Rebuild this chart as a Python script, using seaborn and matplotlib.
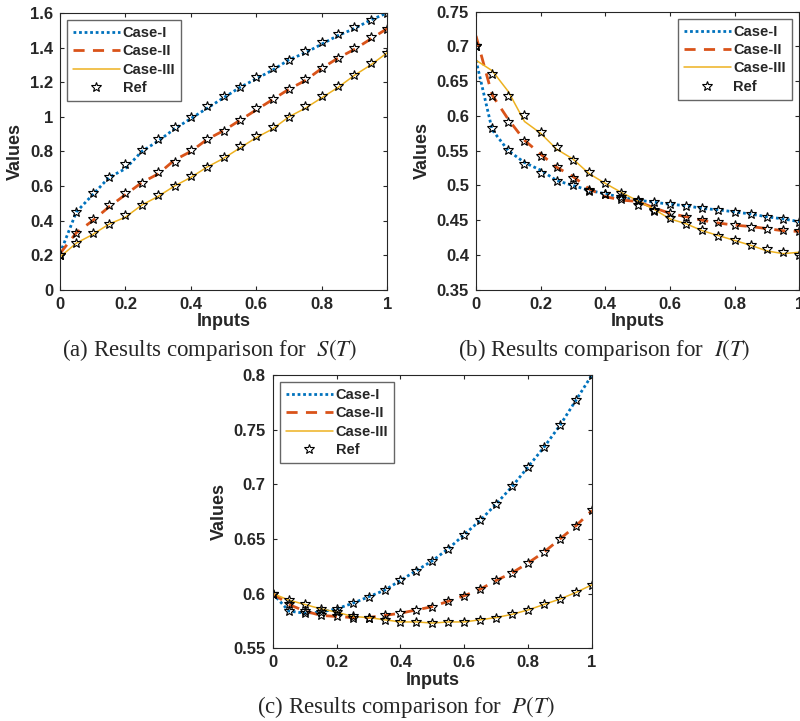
import numpy as np
import pandas as pd
import seaborn as sns
import matplotlib.pyplot as plt
from matplotlib.ticker import FuncFormatter

sns.set_style("ticks")
plt.rcParams["font.family"] = ["Liberation Sans", "DejaVu Sans"]
plt.rcParams["mathtext.fontset"] = "stix"

# inputs, 21 points
x = [round(0.05 * i, 2) for i in range(21)]

# (a) S(T)
s_line1 = [0.21, 0.45, 0.55, 0.65, 0.70, 0.80, 0.86, 0.93, 0.99, 1.05, 1.11,
           1.17, 1.22, 1.27, 1.33, 1.37, 1.42, 1.47, 1.51, 1.56, 1.60]
s_line2 = [0.21, 0.33, 0.40, 0.48, 0.55, 0.62, 0.67, 0.75, 0.80, 0.87, 0.92,
           0.98, 1.04, 1.10, 1.16, 1.21, 1.28, 1.34, 1.39, 1.45, 1.51]
s_line3 = [0.19, 0.27, 0.32, 0.38, 0.42, 0.49, 0.54, 0.60, 0.65, 0.71, 0.76,
           0.82, 0.88, 0.93, 1.00, 1.05, 1.11, 1.17, 1.24, 1.30, 1.37]
s_ref1 = [0.20, 0.45, 0.56, 0.65, 0.73, 0.81, 0.87, 0.94, 1.00, 1.06, 1.12,
          1.17, 1.23, 1.28, 1.33, 1.38, 1.43, 1.48, 1.52, 1.56, 1.60]
s_ref2 = [0.20, 0.33, 0.41, 0.49, 0.56, 0.62, 0.68, 0.74, 0.81, 0.87, 0.92,
          0.98, 1.05, 1.10, 1.16, 1.22, 1.28, 1.34, 1.40, 1.46, 1.51]
s_ref3 = [0.20, 0.27, 0.33, 0.38, 0.43, 0.49, 0.55, 0.60, 0.66, 0.71, 0.77,
          0.83, 0.89, 0.94, 1.00, 1.06, 1.12, 1.18, 1.24, 1.31, 1.37]

# (b) I(T)
i_line1 = [0.680, 0.580, 0.550, 0.533, 0.522, 0.507, 0.500, 0.493, 0.488, 0.483, 0.479,
           0.476, 0.473, 0.471, 0.467, 0.465, 0.462, 0.459, 0.455, 0.452, 0.448]
i_line2 = [0.715, 0.630, 0.595, 0.565, 0.545, 0.526, 0.513, 0.495, 0.484, 0.479, 0.477,
           0.468, 0.460, 0.455, 0.450, 0.446, 0.443, 0.441, 0.438, 0.435, 0.434]
i_line3 = [0.680, 0.665, 0.635, 0.592, 0.575, 0.552, 0.538, 0.517, 0.503, 0.490, 0.478,
           0.466, 0.452, 0.445, 0.435, 0.428, 0.421, 0.414, 0.406, 0.402, 0.404]
i_ref1 = [0.700, 0.582, 0.551, 0.531, 0.518, 0.507, 0.500, 0.493, 0.488, 0.483, 0.479,
          0.476, 0.473, 0.471, 0.467, 0.465, 0.462, 0.459, 0.455, 0.452, 0.448]
i_ref2 = [0.700, 0.628, 0.591, 0.564, 0.543, 0.526, 0.511, 0.492, 0.488, 0.480, 0.477,
          0.465, 0.460, 0.455, 0.450, 0.447, 0.443, 0.440, 0.437, 0.436, 0.434]
i_ref3 = [0.700, 0.660, 0.629, 0.601, 0.577, 0.555, 0.536, 0.519, 0.503, 0.489, 0.472,
          0.464, 0.453, 0.444, 0.436, 0.428, 0.421, 0.414, 0.409, 0.404, 0.400]

# (c) P(T)
p_ref1 = [0.600, 0.584, 0.582, 0.583, 0.586, 0.591, 0.597, 0.603, 0.612, 0.621, 0.630,
          0.641, 0.654, 0.667, 0.682, 0.698, 0.716, 0.734, 0.754, 0.777, 0.800]
p_ref2 = [0.600, 0.590, 0.584, 0.580, 0.579, 0.578, 0.578, 0.580, 0.582, 0.585, 0.588,
          0.593, 0.598, 0.604, 0.612, 0.619, 0.628, 0.638, 0.650, 0.662, 0.676]
p_ref3 = [0.600, 0.594, 0.590, 0.586, 0.583, 0.579, 0.578, 0.576, 0.574, 0.574, 0.573,
          0.574, 0.574, 0.576, 0.578, 0.581, 0.585, 0.590, 0.595, 0.601, 0.608]

cases = ["Case-I", "Case-II", "Case-III"]
colors = ["#0072BD", "#D95319", "#EDB120"]
styles = [(0, (1, 1)), (0, (4, 3)), "-"]
widths = [2.0, 2.0, 1.1]


def panel(ax, lines, refs, ylim, yticks, loc, caption, cap_x, cap_y):
    for k in range(3):
        sns.lineplot(x=x, y=lines[k], ax=ax, color=colors[k], linestyle=styles[k],
                     linewidth=widths[k], label=cases[k])
    for k in range(3):
        sns.lineplot(x=x, y=refs[k], ax=ax, linestyle="none", marker="*",
                     markersize=7, markerfacecolor="none", markeredgecolor="black",
                     markeredgewidth=0.8, color="black",
                     label="Ref" if k == 0 else None)
    ax.set_xlim(0, 1)
    ax.set_ylim(*ylim)
    ax.set_xticks([0, 0.2, 0.4, 0.6, 0.8, 1])
    ax.set_yticks(yticks)
    fmt = FuncFormatter(lambda v, p: "%g" % round(v, 3))
    ax.xaxis.set_major_formatter(fmt)
    ax.yaxis.set_major_formatter(fmt)
    ax.tick_params(direction="in", top=True, right=True, length=3, width=0.8,
                   labelsize=12, colors="#262626", pad=5)
    for t in ax.get_xticklabels() + ax.get_yticklabels():
        t.set_fontweight("bold")
    ax.set_xlabel("Inputs", fontsize=13, fontweight="bold", labelpad=1)
    ax.set_ylabel("Values", fontsize=13, fontweight="bold", labelpad=4)
    for sp in ax.spines.values():
        sp.set_linewidth(0.8)
        sp.set_color("#262626")
    leg = ax.legend(loc=loc, frameon=True, fancybox=False,
                    prop={"weight": "bold", "size": 10.5}, handlelength=3.2,
                    handletextpad=0.2, borderpad=0.4, labelspacing=0.3)
    leg.get_frame().set_edgecolor("#404040")
    leg.get_frame().set_linewidth(1.0)
    fig.text(cap_x, cap_y, caption, ha="center", va="center",
             fontsize=16.5, family="Liberation Serif")


fig = plt.figure(figsize=(8, 7.21), dpi=100)
ax_a = fig.add_axes([0.075, 0.598, 0.409, 0.384])
ax_b = fig.add_axes([0.595, 0.598, 0.404, 0.386])
ax_c = fig.add_axes([0.341, 0.101, 0.399, 0.379])

panel(ax_a, [s_line1, s_line2, s_line3], [s_ref1, s_ref2, s_ref3], (0, 1.6),
      np.arange(0, 1.61, 0.2), "upper left",
      "(a) Results comparison for  $S(T)$", 0.262, 1 - 350 / 721)
panel(ax_b, [i_line1, i_line2, i_line3], [i_ref1, i_ref2, i_ref3], (0.35, 0.75),
      np.arange(0.35, 0.751, 0.05), "upper right",
      "(b) Results comparison for  $I(T)$", 0.755, 1 - 350 / 721)
panel(ax_c, [p_ref1, p_ref2, p_ref3], [p_ref1, p_ref2, p_ref3], (0.55, 0.8),
      np.arange(0.55, 0.801, 0.05), "upper left",
      "(c) Results comparison for  $P(T)$", 0.507, 1 - 707 / 721)

fig.savefig("out.png", dpi=100)
